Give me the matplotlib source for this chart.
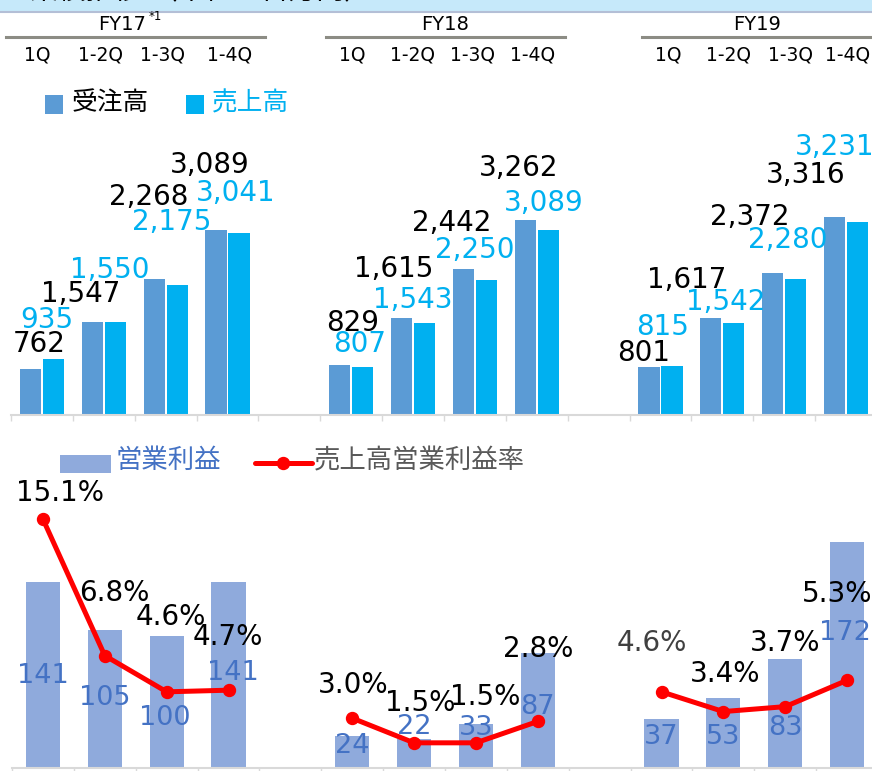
import matplotlib
matplotlib.use("Agg")
import matplotlib.pyplot as plt
import numpy as np
from matplotlib.patches import Rectangle
from matplotlib.lines import Line2D

plt.rcParams['font.family'] = ['DejaVu Sans', 'Noto Sans CJK JP']

nan = np.nan
# 14 slots: FY17 x4, gap, FY18 x4, gap, FY19 x4
orders = [762, 1547, 2268, 3089, nan, 829, 1615, 2442, 3262, nan, 801, 1617, 2372, 3316]
sales = [935, 1550, 2175, 3041, nan, 807, 1543, 2250, 3089, nan, 815, 1542, 2280, 3231]
op_profit = [141, 105, 100, 141, nan, 24, 22, 33, 87, nan, 37, 53, 83, 172]
margin = [15.1, 6.8, 4.6, 4.7, nan, 3.0, 1.5, 1.5, 2.8, nan, 4.6, 3.4, 3.7, 5.3]

years = ['FY17', 'FY18', 'FY19']
quarters = ['1Q', '1-2Q', '1-3Q', '1-4Q']

# label placement (slot offset, y in data units)
order_lbl_dx = [-0.05, -0.37, -0.28, -0.28, 0, 0.03, -0.31, -0.37, -0.30, 0, -0.28, -0.57, -0.55, -0.66]
order_lbl_y = [1187, 2023, 3645, 4181, 0, 1538, 2441, 3211, 4130, 0, 1037, 2258, 3311, 4013]
sales_lbl_dx = [0.08, 0.10, 0.10, 0.14, 0, 0.14, 0.0, -0.01, 0.12, 0, 0.03, 0.05, 0.05, -0.19]
sales_lbl_y = [1589, 2425, 3227, 3712, 0, 1187, 1923, 2759, 3545, 0, 1472, 1890, 2926, 4482]
op_lbl_dx = [0, 0, -0.03, 0.07, 0, 0, 0.01, 0, 0, 0, 0, 0, 0, -0.03]
op_lbl_y = [69.7, 52.9, 37.7, 72, 0, 16.4, 30.8, 30.1, 46.1, 0, 23.2, 23.2, 30.1, 102.4]
pct_lbl_dx = [0.28, 0.16, 0.06, -0.01, 0, 0.01, 0.10, 0.15, 0, 0, -0.15, 0.03, 0, -0.16]
pct_lbl_y = [209, 132.9, 114.6, 99.4, 0, 62.8, 49.1, 53.7, 90.3, 0, 94.8, 71.2, 94.8, 132.1]
pct_colors = ['black'] * 10 + ['#404040', 'black', 'black', 'black']

c_order = '#5b9bd5'
c_sales = '#00b0f0'
c_op = '#8faadc'
c_op_text = '#4472c4'
c_line = '#ff0000'
c_axis = '#d9d9d9'

W, H = 872, 771
fig = plt.figure(figsize=(W / 100, H / 100), dpi=100)


def px(x, y):
    return x / W, 1 - y / H


x = np.arange(len(orders))

# ---- header band (slide title, mostly cropped) ----
fig.patches.append(Rectangle(px(0, 11), 1, 11 / H, transform=fig.transFigure,
                             facecolor='#c6e9fa', edgecolor='none'))
fig.add_artist(Line2D([0, 1], [1 - 12 / H] * 2, color='#b4bfd6', lw=1.5))
fig.text(*px(30, -1), '業績推移 （単位：百万円）', fontsize=20, va='baseline', color='black')

# ---- year / quarter header ----
year_x = [122, 445, 757]
year_lines = [(6, 265), (326, 565), (642, 872)]
quarter_x = [[37, 100, 163, 230], [352, 412, 472, 533], [668, 728, 790, 848]]
for yr, yx, (l0, l1), qx in zip(years, year_x, year_lines, quarter_x):
    fig.text(*px(yx, 25), yr, fontsize=14, ha='center', va='center')
    fig.add_artist(Line2D([l0 / W, l1 / W], [1 - 37 / H] * 2, color='#8c8c84', lw=2.2))
    for q, xx in zip(quarters, qx):
        fig.text(*px(xx, 55), q, fontsize=13.5, ha='center', va='center')
fig.text(*px(149, 17), '*1', fontsize=8.5, ha='left', va='center')

# ---- top chart: orders / sales ----
ax1 = fig.add_axes([11 / W, (H - 415) / H, 866 / W, 239.2 / H])
bw = 0.34
ax1.bar(x - 0.186, orders, bw, color=c_order)
ax1.bar(x + 0.186, sales, bw, color=c_sales)
for i in x:
    if np.isnan(orders[i]):
        continue
    ax1.text(i + order_lbl_dx[i], order_lbl_y[i], f'{orders[i]:,}', fontsize=20,
             ha='center', va='center', color='black')
    ax1.text(i + sales_lbl_dx[i], sales_lbl_y[i], f'{sales[i]:,}', fontsize=20,
             ha='center', va='center', color=c_sales)
ax1.set_ylim(0, 4000)

# ---- bottom chart: operating profit / margin ----
ax2 = fig.add_axes([12 / W, (H - 767.5) / H, 866 / W, 260 / H])
ax2.bar(x, op_profit, 0.55, color=c_op)
ax2.set_ylim(0, 260 / 1.313)
ax3 = ax2.twinx()
ax3.plot(x, margin, color=c_line, lw=3.6, marker='o', ms=8.6)
ax3.set_ylim(0, 260 / 16.45)
ax3.axis('off')
for i in x:
    if np.isnan(op_profit[i]):
        continue
    ax2.text(i + op_lbl_dx[i], op_lbl_y[i], f'{op_profit[i]:g}', fontsize=19.5,
             ha='center', va='center', color=c_op_text, zorder=5)
    ax2.text(i + pct_lbl_dx[i], pct_lbl_y[i], f'{margin[i]:.1f}%', fontsize=20,
             ha='center', va='center', color=pct_colors[i], zorder=5)

for ax in (ax1, ax2):
    ax.set_xlim(-0.5, len(orders) - 0.5)
    for s in ('top', 'right', 'left'):
        ax.spines[s].set_visible(False)
    ax.spines['bottom'].set_color(c_axis)
    ax.spines['bottom'].set_linewidth(1.5)
    ax.set_xticks(np.arange(len(orders) + 1) - 0.5)
    ax.set_xticklabels([])
    ax.tick_params(axis='x', length=4, width=1, color=c_axis, direction='out')
    ax.set_yticks([])
    ax.patch.set_alpha(0)

# ---- legends ----
fig.patches.append(Rectangle(px(45, 114), 18 / W, 19 / H, transform=fig.transFigure,
                             facecolor=c_order, edgecolor='none'))
fig.text(*px(72, 103), '受注高', fontsize=18.5, va='center', color='black')
fig.patches.append(Rectangle(px(186, 114), 18 / W, 19 / H, transform=fig.transFigure,
                             facecolor=c_sales, edgecolor='none'))
fig.text(*px(212, 103), '売上高', fontsize=18.5, va='center', color=c_sales)

fig.patches.append(Rectangle(px(60, 473), 51 / W, 18 / H, transform=fig.transFigure,
                             facecolor=c_op, edgecolor='none'))
fig.text(*px(116, 461), '営業利益', fontsize=19, va='center', color=c_op_text)
fig.add_artist(Line2D([255 / W, 312 / W], [1 - 463 / H] * 2, color=c_line, lw=3.6,
                      solid_capstyle='round'))
fig.add_artist(Line2D([283 / W], [1 - 463 / H], color=c_line, marker='o', ms=8.6))
fig.text(*px(314, 461), '売上高営業利益率', fontsize=19, va='center', color='#595959')

fig.savefig('out.png', dpi=100)
